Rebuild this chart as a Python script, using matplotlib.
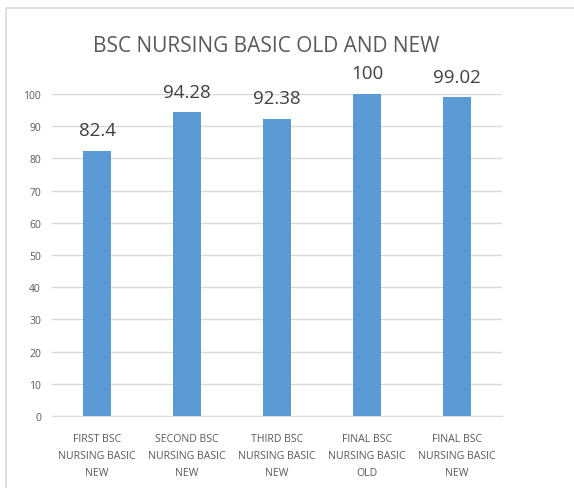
import matplotlib.pyplot as plt
from matplotlib.patches import Rectangle

# chart data
categories = ["FIRST BSC\nNURSING BASIC\nNEW", "SECOND BSC\nNURSING BASIC\nNEW",
              "THIRD BSC\nNURSING BASIC\nNEW", "FINAL BSC\nNURSING BASIC\nOLD",
              "FINAL BSC\nNURSING BASIC\nNEW"]
values = [82.4, 94.28, 92.38, 100, 99.02]
value_labels = ["82.4", "94.28", "92.38", "100", "99.02"]
yticks = [0, 10, 20, 30, 40, 50, 60, 70, 80, 90, 100]

plt.rcParams['font.family'] = ['Open Sans', 'DejaVu Sans']

W, H = 574, 489
fig = plt.figure(figsize=(W / 100, H / 100), dpi=100)

# outer chart frame (cropped on right and bottom)
fig.patches.append(Rectangle((6 / W, -0.1), 1.2, 1 - 9 / H + 0.1,
                             transform=fig.transFigure, fill=False,
                             edgecolor='#d9d9d9', linewidth=1.2))

ax = fig.add_axes([52 / W, 1 - 417 / H, (502 - 52) / W, (417 - 95) / H])
x = range(len(values))
ax.bar(x, values, width=0.31, color='#5b9bd5', zorder=3)

for i, (v, lab) in enumerate(zip(values, value_labels)):
    ax.text(i, v + 3.6, lab, ha='center', va='bottom', fontsize=13.5,
            color='#404040')

ax.set_xlim(-0.5, len(values) - 0.5)
ax.set_ylim(0, 100)
ax.set_yticks(yticks)
ax.set_yticklabels([str(t) for t in yticks], fontsize=7.5, color='#595959')
ax.set_xticks(list(x))
ax.set_xticklabels(categories, fontsize=7.6, color='#595959', linespacing=1.75)
ax.tick_params(length=0, pad=8)
ax.tick_params(axis='x', pad=12)
ax.grid(axis='y', color='#d9d9d9', linewidth=1, zorder=0)
for s in ['top', 'right', 'left']:
    ax.spines[s].set_visible(False)
ax.spines['bottom'].set_color('#d9d9d9')

fig.text((93 + 440) / 2 / W, 1 - 46 / H, "BSC NURSING BASIC OLD AND NEW",
         ha='center', va='center', fontsize=15, color='#595959')

fig.savefig('out.png', dpi=100)
